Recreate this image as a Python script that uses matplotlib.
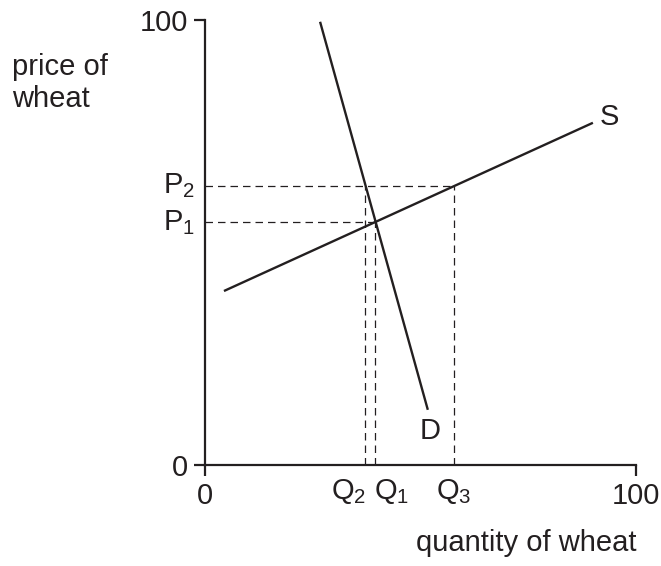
import matplotlib
matplotlib.use('Agg')
import matplotlib.pyplot as plt

plt.rcParams['font.family'] = ['Liberation Sans', 'DejaVu Sans']
plt.rcParams['mathtext.fontset'] = 'custom'
plt.rcParams['mathtext.rm'] = 'Liberation Sans'
plt.rcParams['mathtext.it'] = 'Liberation Sans'

ink = '#231f20'
fs = 21

# curves (data coords, 0-100 scale)
supply_x = [4.4, 90]
supply_y = [39.1, 76.9]
demand_x = [26.7, 51.7]
demand_y = [99.6, 12.4]

# equilibrium levels
q1, q2, q3 = 39.5, 37.1, 57.8
p1, p2 = 54.5, 62.7

fig = plt.figure(figsize=(6.61, 5.66), dpi=100)
ax = fig.add_axes([205/661, 101/566, 431/661, 445/566])
ax.set_xlim(0, 100)
ax.set_ylim(0, 100)

for s in ['top', 'right']:
    ax.spines[s].set_visible(False)
for s in ['left', 'bottom']:
    ax.spines[s].set_linewidth(1.6)
    ax.spines[s].set_color(ink)

ax.set_xticks([0, 100])
ax.set_yticks([0, 100])
ax.tick_params(direction='out', length=8, width=1.6, color=ink,
               labelsize=fs, labelcolor=ink, pad=4)

dash = dict(color=ink, lw=0.9, linestyle=(0, (6, 4)))
# horizontal guides
ax.plot([0, q3], [p2, p2], **dash)
ax.plot([0, q1], [p1, p1], **dash)
# vertical guides
ax.plot([q2, q2], [0, p2], **dash)
ax.plot([q1, q1], [0, p1], **dash)
ax.plot([q3, q3], [0, p2], **dash)

ax.plot(supply_x, supply_y, color=ink, lw=1.7, solid_capstyle='butt')
ax.plot(demand_x, demand_y, color=ink, lw=1.7, solid_capstyle='butt')

ax.text(91.5, 78.2, 'S', fontsize=fs, color=ink, ha='left', va='center')
ax.text(52.2, 7.6, 'D', fontsize=fs, color=ink, ha='center', va='center')

# P labels on y axis
ax.text(-2.4, p2, r'$\mathrm{P}_2$', fontsize=fs, color=ink, ha='right', va='center',
        clip_on=False)
ax.text(-2.4, p1, r'$\mathrm{P}_1$', fontsize=fs, color=ink, ha='right', va='center',
        clip_on=False)

# Q labels below x axis
ax.text(q2 + 0.3, -6.0, r'$\mathrm{Q}_2$', fontsize=fs, color=ink, ha='right', va='center',
        clip_on=False)
ax.text(q1 - 0.3, -6.0, r'$\mathrm{Q}_1$', fontsize=fs, color=ink, ha='left', va='center',
        clip_on=False)
ax.text(q3, -6.0, r'$\mathrm{Q}_3$', fontsize=fs, color=ink, ha='center', va='center',
        clip_on=False)

fig.text(12/661, 1 - 83/566, 'price of\nwheat', fontsize=fs, color=ink,
         ha='left', va='center')
fig.text(637/661, 1 - 543/566, 'quantity of wheat', fontsize=fs, color=ink,
         ha='right', va='center')

fig.savefig('out.png', dpi=100)
